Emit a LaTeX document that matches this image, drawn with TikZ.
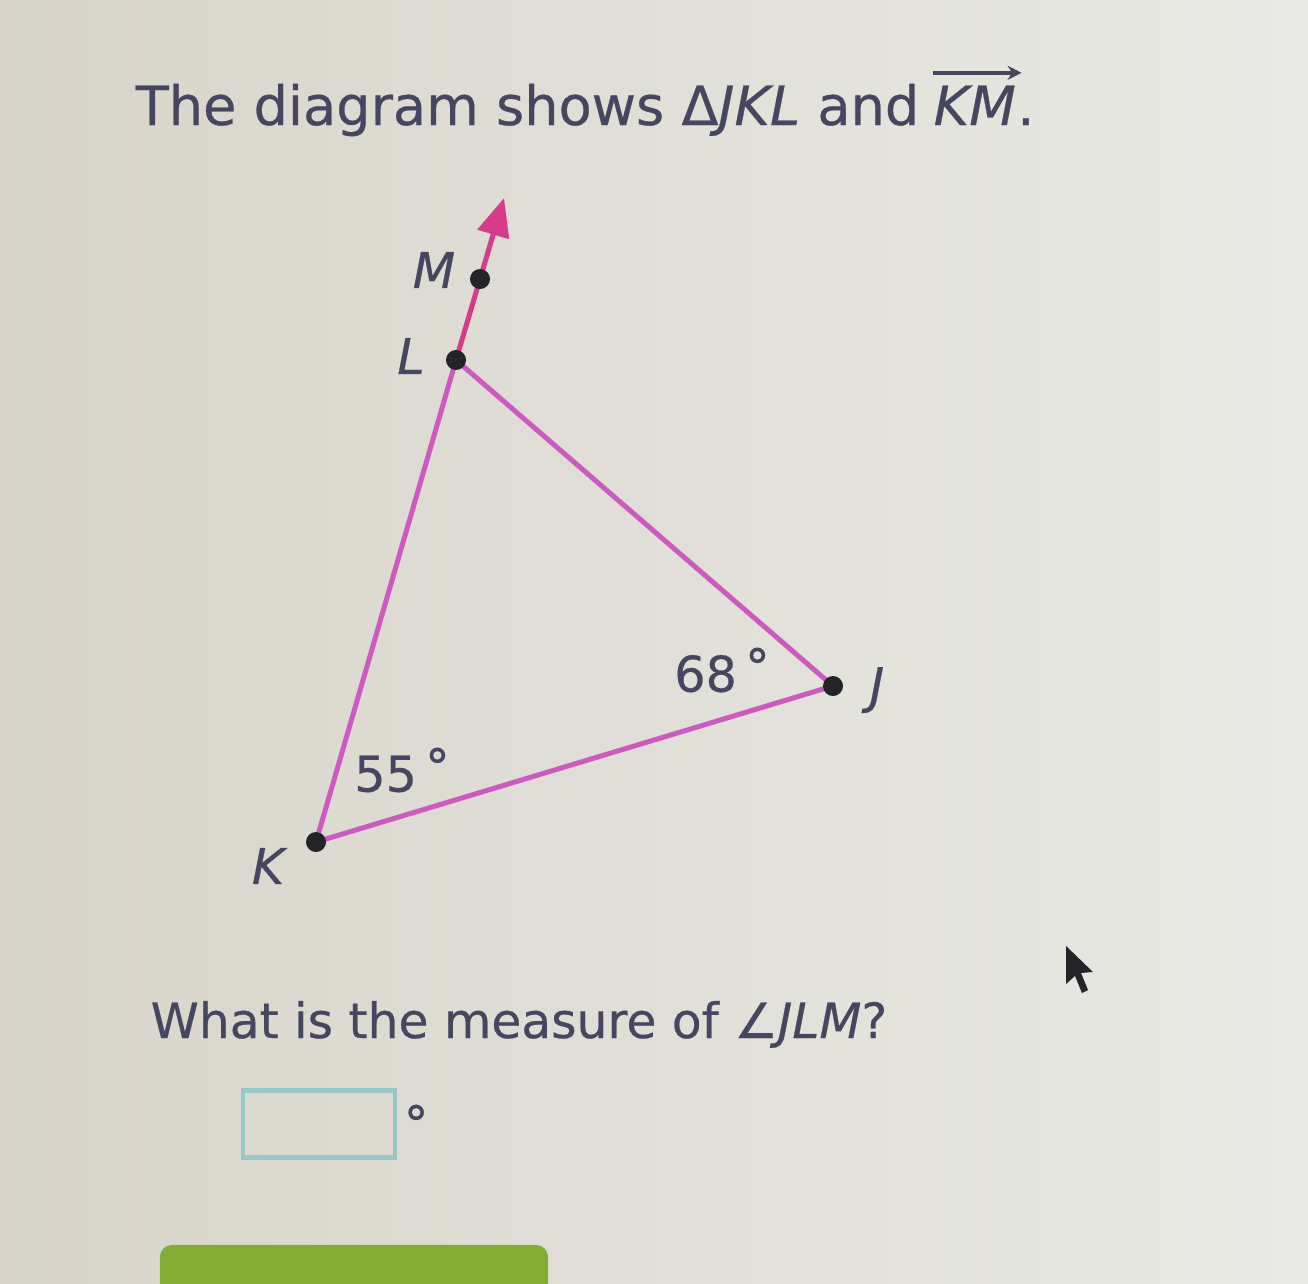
\documentclass[tikz,border=0pt]{standalone}
\usepackage{fontspec}
\setmainfont[FakeBold=0.5]{DejaVu Sans}
\usetikzlibrary{arrows.meta}
\definecolor{bgA}{RGB}{216,212,202}
\definecolor{bgB}{RGB}{233,234,229}
\definecolor{ink}{RGB}{70,70,96}
\definecolor{tri}{RGB}{205,90,192}
\definecolor{raycol}{RGB}{214,60,138}
\definecolor{dotc}{RGB}{36,36,40}
\definecolor{boxc}{RGB}{150,200,200}
\definecolor{btn}{RGB}{132,172,52}
\pgfdeclarelayer{bg}
\pgfsetlayers{bg,main}
\begin{document}
\begin{tikzpicture}[x=0.01cm,y=-0.01cm,
  dot/.style={circle,fill=dotc,inner sep=0pt,minimum size=0.2cm},
  lbl/.style={text=ink,inner sep=0pt,font=\fontsize{14}{16}\selectfont\itshape},
  ang/.style={text=ink,inner sep=0pt,font=\fontsize{14}{16}\selectfont},
  side/.style={draw=tri,line width=0.05cm,line cap=round,line join=round},
  rayline/.style={draw=raycol,line width=0.05cm},
  txt/.style={text=ink,inner sep=0pt}]
\useasboundingbox (0,0) rectangle (1308,1284);
\clip (0,0) rectangle (1308,1284);
\begin{pgfonlayer}{bg}
\shade[left color=bgA,right color=bgB] (0,0) rectangle (1308,1284);
\end{pgfonlayer}
% title
\node[txt,anchor=base west,font=\fontsize{15.4}{18}\selectfont] (t1) at (135,125) {The diagram shows Δ\textit{JKL} and};
\node[txt,anchor=base west,font=\fontsize{15.4}{18}\selectfont] (km) at ([xshift=0.13cm]t1.base east) {\textit{KM}};
\node[txt,anchor=base west,font=\fontsize{15.4}{18}\selectfont] (dotp) at (km.base east) {.};
\draw[ink,line width=1pt,-{Stealth[length=0.14cm,width=0.14cm]}] ([yshift=0.12cm]km.north west) -- ([yshift=0.12cm,xshift=0.05cm]km.north east);
% points
\node[dot] (K) at (316,842) {};
\node[dot] (J) at (833,686) {};
\node[dot] (L) at (456,360) {};
\node[dot] (M) at (480,279) {};
\coordinate (tip) at (504,198);
\begin{pgfonlayer}{bg}
\draw[rayline,-{Triangle[length=0.38cm,width=0.32cm]}] (L.center) -- (tip);
\draw[side] (K.center) -- (J.center) -- (L.center) -- cycle;
\end{pgfonlayer}
% labels
\node[lbl] (Kl) at (268,866) {K};
\node[lbl] (Jl) at (877,690) {J};
\node[lbl] (Ll) at (411,356) {L};
\node[lbl] (Ml) at (434,270) {M};
\node[ang] (a55) at (402,770) {55\,\raisebox{0.15em}{°}};
\node[ang] (a68) at (722,670) {68\,\raisebox{0.15em}{°}};
% question
\node[txt,anchor=base west,font=\fontsize{13.85}{17}\selectfont] (q) at (150,1038) {What is the measure of ∠\textit{JLM}?};
\node[draw=boxc,line width=1.2pt,minimum width=1.52cm,minimum height=0.67cm,inner sep=0pt] (ans) at (319,1124) {};
\node[txt,anchor=west,font=\fontsize{14}{17}\selectfont] (deg) at ([xshift=0.06cm,yshift=0.01cm]ans.east) {°};
% button
\node[fill=btn,rounded corners=0.12cm,minimum width=3.88cm,minimum height=0.9cm,inner sep=0pt] (button) at (354,1290) {};
% cursor
\fill[dotc] (1066,946) -- (1066,984) -- (1075,976) -- (1082,993) -- (1088,990) -- (1081,973) -- (1093,972) -- cycle;
\end{tikzpicture}
\end{document}
